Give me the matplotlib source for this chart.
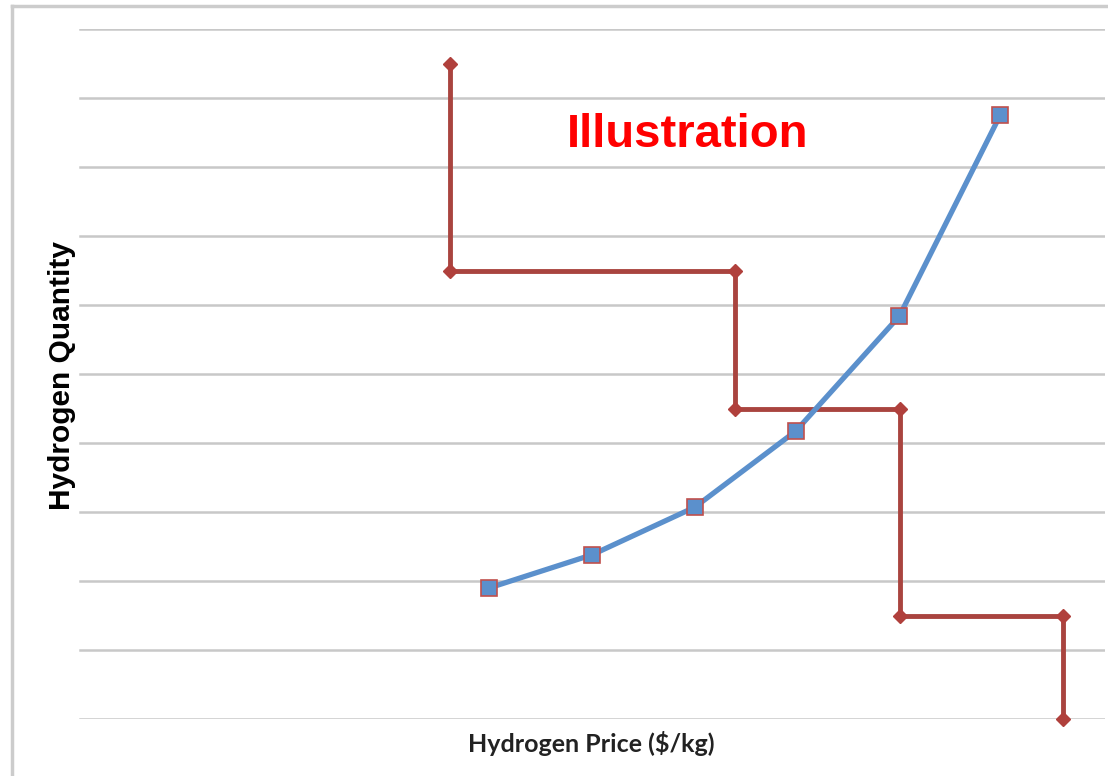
import matplotlib.pyplot as plt
from matplotlib.lines import Line2D

# demand (step) curve
demand_price = [3.63, 3.63, 6.40, 6.40, 8.01, 8.01, 9.59, 9.59]
demand_qty = [9.5, 6.5, 6.5, 4.5, 4.5, 1.5, 1.5, 0.0]

# supply curve
supply_price = [4.01, 5.01, 6.01, 6.99, 8.00, 8.98]
supply_qty = [1.90, 2.38, 3.07, 4.17, 5.84, 8.75]

grid_levels = list(range(0, 11))

fig = plt.figure(figsize=(11.08, 7.76), dpi=100)
ax = fig.add_axes([77 / 1108, 57 / 776, 1028 / 1108, 690 / 776])
ax.set_xlim(0, 10)
ax.set_ylim(0, 10)

for g in grid_levels:
    ax.axhline(g, xmin=0.003, color="#c8c8c8", lw=1.8, zorder=1)

ax.plot(demand_price, demand_qty, color="#a9443f", lw=3.5, marker="D",
        markersize=7, markerfacecolor="#b0403c", markeredgecolor="#b0403c",
        zorder=3, clip_on=False)
ax.plot(supply_price, supply_qty, color="#5b90cc", lw=3.8, marker="s",
        markersize=11, markerfacecolor="#5b90cc", markeredgecolor="#c0504d",
        markeredgewidth=1.2, zorder=4, clip_on=False)

ax.text(0.594, 0.846, "Illustration", transform=ax.transAxes, color="#ff0000",
        fontsize=34, fontweight="bold", family="Liberation Sans",
        ha="center", va="center")

for s in ax.spines.values():
    s.set_visible(False)
ax.set_xticks([])
ax.set_yticks([])

fig.text(591 / 1108, 1 - 744 / 776, "Hydrogen Price ($/kg)", fontsize=18,
         fontweight="bold", family="Lato", color="#222222",
         ha="center", va="center")
fig.text(62 / 1108, 1 - 375 / 776, "Hydrogen Quantity", fontsize=21.5,
         fontweight="bold", family="Liberation Sans", rotation=90,
         ha="center", va="center")

# outer frame (left and top edges)
fig.add_artist(Line2D([12 / 1108, 12 / 1108], [0, 1 - 6 / 776],
                      color="#cccccc", lw=2.5, transform=fig.transFigure))
fig.add_artist(Line2D([12 / 1108, 1], [1 - 6 / 776, 1 - 6 / 776],
                      color="#cccccc", lw=2.5, transform=fig.transFigure))

fig.savefig("out.png", dpi=100)
